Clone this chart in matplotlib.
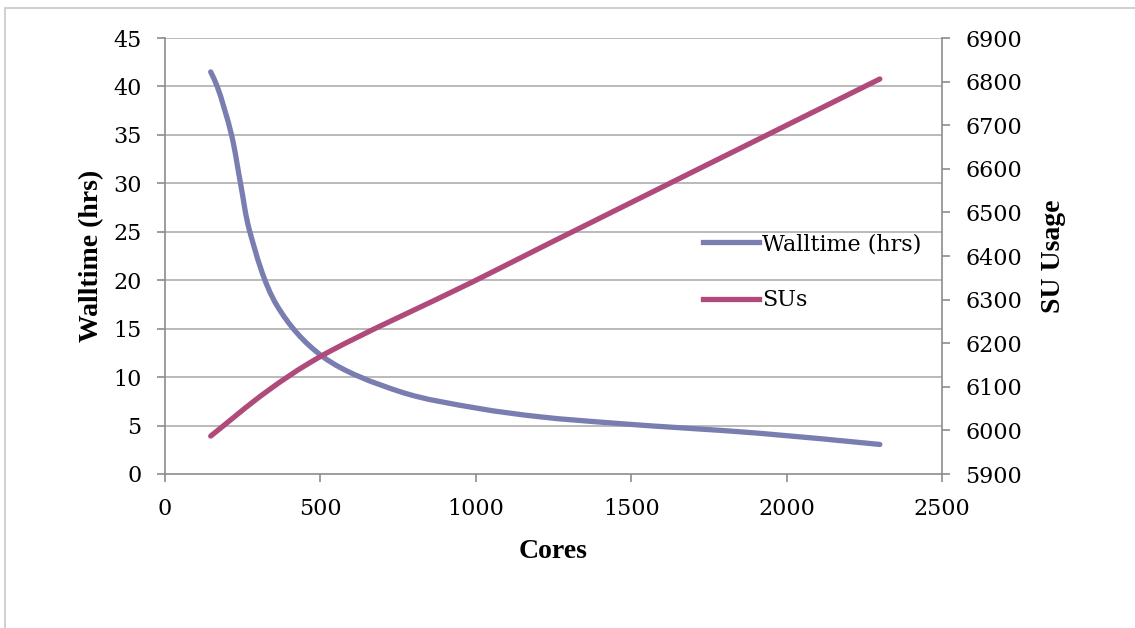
import numpy as np
import matplotlib
matplotlib.use("Agg")
import matplotlib.pyplot as plt
from matplotlib.path import Path
from matplotlib.patches import PathPatch, Rectangle
from matplotlib.lines import Line2D

# values
wall_cores = [147, 168, 214, 243, 273, 360, 508, 756, 1003, 1207, 1464, 1914, 2300]
walltime = [41.5, 40, 35, 30, 25, 17.4, 12.1, 8.5, 6.8, 5.9, 5.2, 4.2, 3.05]

su_cores = [147, 327, 499, 991, 1239, 2300]
su_usage = [5987, 6089, 6169, 6341, 6430, 6806]

x_ticks = [0, 500, 1000, 1500, 2000, 2500]
wall_ticks = [0, 5, 10, 15, 20, 25, 30, 35, 40, 45]
su_ticks = [5900, 6000, 6100, 6200, 6300, 6400, 6500, 6600, 6700, 6800, 6900]

blue = "#7a7db0"
red = "#b04a7a"
grid_c = "#b4b4b4"
spine_c = "#8c8c8c"

tick_font = dict(family="DejaVu Serif", size=16)
label_font = dict(family="Liberation Serif", size=20, weight="bold")


def smooth_path(xs, ys, xlim, ylim, w=777.0, h=436.0):
    # smoothed line like excel: centripetal catmull-rom turned into cubic beziers, in screen-like space
    px = (np.asarray(xs, float) - xlim[0]) / (xlim[1] - xlim[0]) * w
    py = (np.asarray(ys, float) - ylim[0]) / (ylim[1] - ylim[0]) * h
    pts = np.column_stack([px, py])
    n = len(pts)
    verts = [pts[0]]
    codes = [Path.MOVETO]
    for i in range(n - 1):
        p1, p2 = pts[i], pts[i + 1]
        d2 = np.linalg.norm(p2 - p1) ** 0.5
        if i > 0:
            p0 = pts[i - 1]
            d1 = np.linalg.norm(p1 - p0) ** 0.5
            c1 = (d1 ** 2 * p2 - d2 ** 2 * p0 + (2 * d1 ** 2 + 3 * d1 * d2 + d2 ** 2) * p1) / (3 * d1 * (d1 + d2))
        else:
            c1 = p1 + (p2 - p1) / 3.0
        if i < n - 2:
            p3 = pts[i + 2]
            d3 = np.linalg.norm(p3 - p2) ** 0.5
            c2 = (d3 ** 2 * p1 - d2 ** 2 * p3 + (2 * d3 ** 2 + 3 * d3 * d2 + d2 ** 2) * p2) / (3 * d3 * (d3 + d2))
        else:
            c2 = p2 - (p2 - p1) / 3.0
        verts += [c1, c2, p2]
        codes += [Path.CURVE4] * 3
    verts = np.array(verts)
    verts[:, 0] = verts[:, 0] / w * (xlim[1] - xlim[0]) + xlim[0]
    verts[:, 1] = verts[:, 1] / h * (ylim[1] - ylim[0]) + ylim[0]
    return Path(verts, codes)


fig = plt.figure(figsize=(11.35, 6.28), dpi=100)
fig.patches.append(Rectangle((5 / 1135, -0.2), 1.3, 0.2 + 1 - 8 / 628, transform=fig.transFigure,
                             fill=False, edgecolor="#c8c8c8", lw=1.2))

ax = fig.add_axes([165 / 1135, 1 - 474 / 628, 777 / 1135, 436 / 628])
ax2 = ax.twinx()

xlim = (0, 2500)
ax.set_xlim(*xlim)
ax.set_ylim(0, 45)
ax2.set_ylim(5900, 6900)

for y in wall_ticks[1:]:
    ax.axhline(y, color=grid_c, lw=1.3, zorder=0)

ax.add_patch(PathPatch(smooth_path(wall_cores, walltime, xlim, (0, 45)), fill=False,
                       edgecolor=blue, lw=3.8, capstyle="round", joinstyle="round", zorder=3))
ax2.add_patch(PathPatch(smooth_path(su_cores, su_usage, xlim, (5900, 6900)), fill=False,
                        edgecolor=red, lw=3.8, capstyle="round", joinstyle="round", zorder=3))

for a in (ax, ax2):
    for s in a.spines.values():
        s.set_color(spine_c)
        s.set_linewidth(1.2)
    a.spines["top"].set_visible(False)
ax.spines["right"].set_visible(False)
ax2.spines["left"].set_visible(False)
ax2.spines["bottom"].set_visible(False)

ax.set_xticks(x_ticks)
ax.set_yticks(wall_ticks)
ax2.set_yticks(su_ticks)
ax.set_xticklabels([str(v) for v in x_ticks], fontdict=tick_font)
ax.set_yticklabels([str(v) for v in wall_ticks], fontdict=tick_font)
ax2.set_yticklabels([str(v) for v in su_ticks], fontdict=tick_font)
ax.tick_params(axis="both", direction="out", length=6, width=1.2, color=spine_c, pad=11)
ax2.tick_params(axis="y", direction="out", length=6, width=1.2, color=spine_c, pad=11)

ax.set_xlabel("Cores", fontdict=label_font, labelpad=14)
ax.set_ylabel("Walltime (hrs)", fontdict=label_font, labelpad=6)
ax2.set_ylabel("SU Usage", fontdict=label_font, labelpad=13)

handles = [Line2D([], [], color=blue, lw=3.8), Line2D([], [], color=red, lw=3.8)]
leg = ax2.legend(handles, ["Walltime (hrs)", "SUs"], loc="upper left",
                 bbox_to_anchor=(703 / 1135, 1 - 233 / 628), bbox_transform=fig.transFigure,
                 frameon=False, prop=dict(family="DejaVu Serif", size=16),
                 handlelength=2.5, handletextpad=0.15, labelspacing=1.55,
                 borderpad=0, borderaxespad=0)

fig.savefig("out.png", dpi=100)
